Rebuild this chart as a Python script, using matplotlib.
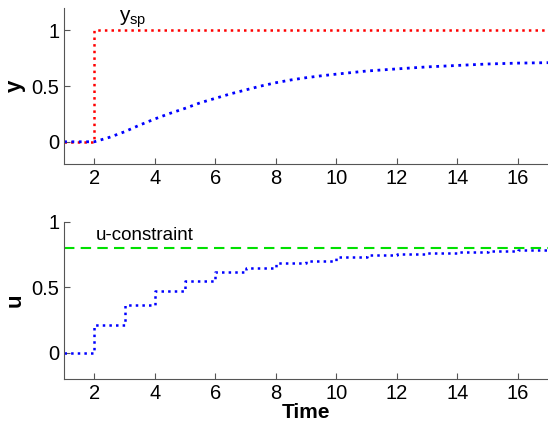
import numpy as np
import matplotlib.pyplot as plt

plt.rcParams['font.family'] = ['Liberation Sans', 'DejaVu Sans']

# output y
t_y = [1, 2, 2.5, 3, 3.5, 4, 4.5, 5, 5.5, 6, 6.5, 7, 7.5, 8, 8.5, 9, 9.5, 10,
       11, 12, 13, 14, 15, 16, 17]
y_out = [0, 0, 0.04, 0.09, 0.15, 0.205, 0.255, 0.30, 0.35, 0.39, 0.43, 0.465,
         0.50, 0.53, 0.555, 0.575, 0.592, 0.607, 0.635, 0.654, 0.672, 0.685,
         0.698, 0.706, 0.71]

# setpoint
t_sp = [1, 2, 2, 17]
y_sp = [0, 0, 1, 1]

# input u (piecewise constant, one value per interval)
t_u = [1, 2, 3, 4, 5, 6, 7, 8, 9, 10, 11, 12, 13, 14, 15, 16, 17]
u_in = [0, 0.21, 0.364, 0.474, 0.548, 0.615, 0.651, 0.685, 0.705, 0.728,
        0.746, 0.756, 0.766, 0.771, 0.777, 0.785, 0.785]
u_max = 0.8

fig = plt.figure(figsize=(5.48, 4.25), dpi=100)
ax1 = fig.add_axes([0.117, 0.614, 0.883, 0.367])
ax2 = fig.add_axes([0.117, 0.108, 0.883, 0.370])

ax1.plot(t_sp, y_sp, color='red', linestyle=':', linewidth=1.8)
ax1.plot(t_y, y_out, color='blue', linestyle=':', linewidth=2.0)
ax1.set_xlim(1, 17)
ax1.set_ylim(-0.2, 1.2)
ax1.set_yticks([0, 0.5, 1])
ax1.set_yticklabels(['0', '0.5', '1'])
ax1.set_ylabel('y', fontsize=16, fontweight='bold', labelpad=4)
ax1.text(2.8, 1.08, r'y$_{\mathregular{sp}}$', fontsize=15)

ax2.step(t_u, u_in, where='post', color='blue', linestyle=':', linewidth=1.8)
ax2.axhline(u_max, color='#00e000', linestyle='--', linewidth=1.5, dashes=(5, 3))
ax2.set_xlim(1, 17)
ax2.set_ylim(-0.2, 1.0)
ax2.set_yticks([0, 0.5, 1])
ax2.set_yticklabels(['0', '0.5', '1'])
ax2.set_ylabel('u', fontsize=16, fontweight='bold', labelpad=4)
ax2.set_xlabel('Time', fontsize=15, fontweight='bold', labelpad=0)
ax2.text(2.05, 0.86, 'u-constraint', fontsize=13.5)

for ax in (ax1, ax2):
    ax.set_xticks([2, 4, 6, 8, 10, 12, 14, 16])
    ax.spines['top'].set_visible(False)
    ax.spines['right'].set_visible(False)
    ax.spines['left'].set_color('#555555')
    ax.spines['bottom'].set_color('#555555')
    ax.tick_params(direction='in', length=4, color='#555555', labelsize=14.5,
                   labelcolor='black')

fig.savefig('out.png', dpi=100)
